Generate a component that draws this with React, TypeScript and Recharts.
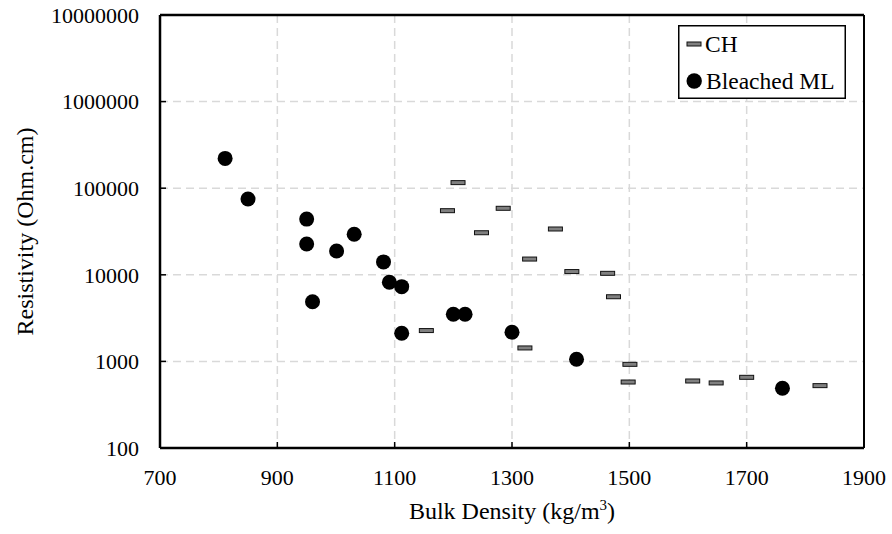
import {
  ScatterChart,
  Scatter,
  XAxis,
  YAxis,
  CartesianGrid,
  ReferenceLine,
  Label,
} from 'recharts';

// CH samples
const chDensity = [1154, 1190, 1208, 1248, 1285, 1322, 1330, 1374, 1402, 1463, 1473, 1498, 1501, 1608, 1648, 1700, 1825];
const chResistivity = [2270, 55000, 116000, 30600, 58600, 1430, 15200, 33800, 10900, 10400, 5580, 578, 925, 594, 564, 655, 525];

// Bleached ML samples
const mlDensity = [811, 850, 950, 950, 960, 1001, 1031, 1081, 1091, 1112, 1112, 1200, 1220, 1300, 1410, 1761];
const mlResistivity = [221000, 75000, 44000, 22700, 4890, 18800, 29400, 14100, 8200, 7300, 2110, 3500, 3500, 2170, 1060, 489];

const xTicks = [700, 900, 1100, 1300, 1500, 1700, 1900];
const yTicks = [100, 1000, 10000, 100000, 1000000, 10000000];

const chData = chDensity.map((d, i) => ({ density: d, resistivity: chResistivity[i] }));
const mlData = mlDensity.map((d, i) => ({ density: d, resistivity: mlResistivity[i] }));

const font = '"Liberation Serif", "Times New Roman", serif';
const tickFont = 22;

function XTick(props: any) {
  const { x, y, payload } = props;
  const axisY = y - 21;
  return (
    <g>
      <line x1={x} x2={x} y1={axisY} y2={axisY - 6} stroke="#000" strokeWidth={1.5} />
      <text x={x} y={y} dy="0.71em" textAnchor="middle" fontFamily={font} fontSize={tickFont} fill="#000">
        {payload.value}
      </text>
    </g>
  );
}

function YTick(props: any) {
  const { x, y, payload } = props;
  const axisX = x + 21;
  return (
    <g>
      <line x1={axisX} x2={axisX + 6} y1={y} y2={y} stroke="#000" strokeWidth={1.5} />
      <text x={x} y={y} dy="0.355em" textAnchor="end" fontFamily={font} fontSize={tickFont} fill="#000">
        {String(payload.value)}
      </text>
    </g>
  );
}

const dashShape = (p: any) => (
  <rect x={p.cx - 7} y={p.cy - 2} width={14} height={4} fill="#808080" stroke="#111" strokeWidth={1} />
);
const dotShape = (p: any) => <circle cx={p.cx} cy={p.cy} r={7.5} fill="#000" />;

function LegendBox() {
  return (
    <svg width={168} height={74} style={{ display: 'block' }}>
      <rect x={0.75} y={0.75} width={166.5} height={72.5} fill="#fff" stroke="#000" strokeWidth={1.5} />
      <rect x={9} y={17} width={14} height={4} fill="#808080" stroke="#111" strokeWidth={1} />
      <text x={27} y={27} fontFamily={font} fontSize={23.5} fill="#000">CH</text>
      <circle cx={16.2} cy={56} r={7.7} fill="#000" />
      <text x={28} y={63.5} fontFamily={font} fontSize={23.5} fill="#000">Bleached ML</text>
    </svg>
  );
}

export default function App() {
  return (
    <div style={{ position: 'absolute', left: 0, top: 0, width: 892, height: 534, background: '#fff' }}>
      <ScatterChart width={892} height={534} margin={{ top: 15, right: 28, bottom: 0, left: 0 }}>
        <CartesianGrid strokeDasharray="8 5" stroke="#d9d9d9" strokeWidth={1.5} />
        <XAxis
          type="number"
          dataKey="density"
          domain={[700, 1900]}
          ticks={xTicks}
          height={86}
          tickSize={0}
          tickMargin={21}
          tickLine={false}
          tick={<XTick />}
          axisLine={{ stroke: '#000', strokeWidth: 2.5 }}
          allowDataOverflow
        >
          <Label
            content={({ viewBox }: any) => (
              <text x={viewBox.x + viewBox.width / 2} y={viewBox.y + 71} textAnchor="middle" fontFamily={font} fontSize={24} fill="#000">
                Bulk Density (kg/m<tspan dy={-9} fontSize={15}>3</tspan><tspan dy={9}>)</tspan>
              </text>
            )}
          />
        </XAxis>
        <YAxis
          type="number"
          dataKey="resistivity"
          scale="log"
          domain={[100, 10000000]}
          ticks={yTicks}
          width={160}
          tickSize={0}
          tickMargin={21}
          tickLine={false}
          tick={<YTick />}
          axisLine={{ stroke: '#000', strokeWidth: 2.5 }}
          allowDataOverflow
        >
          <Label
            content={({ viewBox }: any) => {
              const cx = 25;
              const cy = viewBox.y + viewBox.height / 2;
              return (
                <text x={cx} y={cy} transform={`rotate(-90 ${cx} ${cy})`} dy="0.35em" textAnchor="middle" fontFamily={font} fontSize={24} fill="#000">
                  Resistivity (Ohm.cm)
                </text>
              );
            }}
          />
        </YAxis>
        <ReferenceLine y={10000000} stroke="#000" strokeWidth={2.5} ifOverflow="visible" />
        <ReferenceLine x={1900} stroke="#000" strokeWidth={2} ifOverflow="visible" />
        <Scatter name="CH" data={chData} shape={dashShape} isAnimationActive={false} />
        <Scatter name="Bleached ML" data={mlData} shape={dotShape} isAnimationActive={false} />
      </ScatterChart>
      <div style={{ position: 'absolute', left: 678, top: 25 }}>
        <LegendBox />
      </div>
    </div>
  );
}
